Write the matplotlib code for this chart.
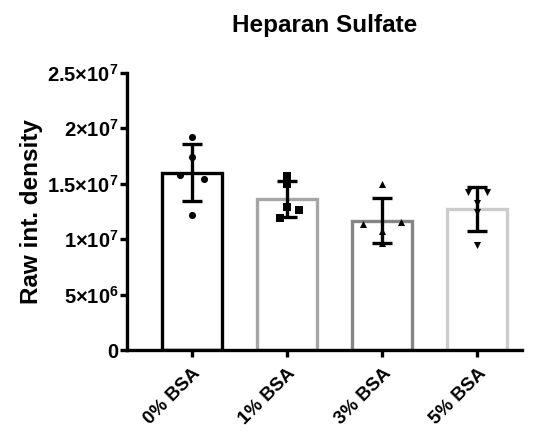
import matplotlib
matplotlib.use("Agg")
import matplotlib.pyplot as plt
import numpy as np

categories = ["0% BSA", "1% BSA", "3% BSA", "5% BSA"]
points = [
    [1.92e7, 1.74e7, 1.576e7, 1.537e7, 1.22e7],
    [1.568e7, 1.50e7, 1.285e7, 1.261e7, 1.186e7],
    [1.50e7, 1.135e7, 1.156e7, 1.075e7, 0.96e7],
    [1.426e7, 1.42e7, 1.327e7, 1.246e7, 0.946e7],
]
jitter = [
    [0.0, 0.0, -0.13, 0.13, 0.0],
    [0.0, 0.0, 0.0, 0.13, -0.07],
    [0.0, -0.2, 0.2, 0.0, 0.0],
    [-0.1, 0.1, 0.0, 0.0, 0.0],
]
markers = ["o", "s", "^", "v"]
edge_colors = ["#000000", "#a6a6a6", "#858585", "#cccccc"]
yticks = [0, 5e6, 1e7, 1.5e7, 2e7, 2.5e7]
ytick_labels = ["0", r"5${\times}$10$^{6}$", r"1${\times}$10$^{7}$",
                r"1.5${\times}$10$^{7}$", r"2${\times}$10$^{7}$", r"2.5${\times}$10$^{7}$"]

plt.rcParams['font.family'] = ['Liberation Sans', 'DejaVu Sans']
plt.rcParams['font.weight'] = 'bold'
plt.rcParams['mathtext.fontset'] = 'custom'
plt.rcParams['mathtext.rm'] = 'Liberation Sans:bold'
plt.rcParams['mathtext.it'] = 'Liberation Sans:bold'
plt.rcParams['mathtext.bf'] = 'Liberation Sans:bold'
plt.rcParams['mathtext.default'] = 'rm'

fig = plt.figure(figsize=(5.37, 4.32), dpi=100)
ax = fig.add_axes([127/537, 1-350/432, (522-127)/537, (350-72.5)/432])

x = np.arange(len(categories))
means = [np.mean(p) for p in points]
sds = [np.std(p, ddof=1) for p in points]

for i in range(len(categories)):
    ax.bar(x[i], means[i], width=0.63, facecolor='white', edgecolor=edge_colors[i],
           linewidth=2.4, zorder=2)
    ax.errorbar(x[i], means[i], yerr=sds[i], fmt='none', ecolor='black',
                elinewidth=2.4, capsize=7, capthick=2.4, zorder=3)
    ax.scatter(x[i] + np.array(jitter[i]), points[i], marker=markers[i], s=26,
               color='black', zorder=4, linewidths=0)

ax.set_xlim(-0.684, 3.47)
ax.set_ylim(0, 2.5e7)
ax.set_yticks(yticks)
ax.set_yticklabels(ytick_labels, fontsize=14.5, fontweight='bold')
ax.set_xticks(x)
ax.set_xticklabels(categories, rotation=45, ha='right', va='top', rotation_mode='anchor',
                   fontsize=13.5, fontweight='bold')
for s in ['top', 'right']:
    ax.spines[s].set_visible(False)
for s in ['left', 'bottom']:
    ax.spines[s].set_linewidth(2.4)
ax.tick_params(axis='both', width=2.4, length=5)
ax.tick_params(axis='y', pad=1)
ax.tick_params(axis='x', pad=6)
ax.set_ylabel("Raw int. density", fontsize=17.5, fontweight='bold')
ax.yaxis.set_label_coords(-0.212, 0.5)
ax.set_title("Heparan Sulfate", fontsize=17.5, fontweight='bold', pad=29)

fig.savefig("out.png", dpi=100)
